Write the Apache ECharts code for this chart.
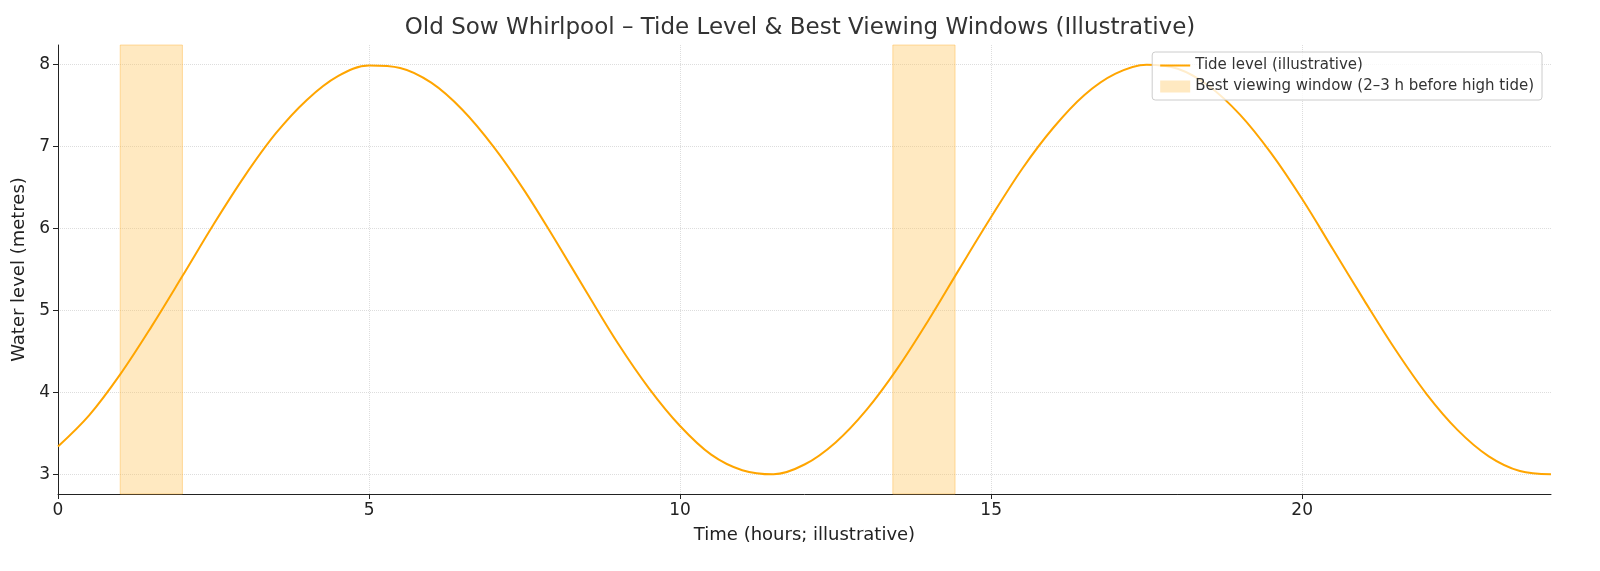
<!DOCTYPE html>
<html>
<head>
<meta charset="utf-8">
<script src="https://cdn.jsdelivr.net/npm/echarts@6/dist/echarts.min.js"></script>
<style>html,body{margin:0;padding:0;background:#fff}#chart{width:1600px;height:571px}</style>
</head>
<body>
<div id="chart"></div>
<script>
// hours and tide level
var hours = [0,0.5,1,1.5,2,2.5,3,3.5,4,4.5,5,5.5,6,6.5,7,7.5,8,8.5,9,9.5,10,10.5,11,11.5,12,12.5,13,13.5,14,14.5,15,15.5,16,16.5,17,17.5,18,18.5,19,19.5,20,20.5,21,21.5,22,22.5,23,23.5,24];
var tide = [3.34,3.72,4.22,4.80,5.42,6.05,6.64,7.16,7.57,7.86,7.99,7.96,7.78,7.45,7.00,6.46,5.85,5.22,4.60,4.05,3.59,3.24,3.05,3.00,3.12,3.39,3.79,4.30,4.89,5.52,6.14,6.73,7.23,7.63,7.89,8.00,7.95,7.74,7.39,6.92,6.36,5.74,5.12,4.52,3.98,3.54,3.22,3.04,3.00];
var windows = [[1.0, 2.0], [13.42, 14.42]];
var xTicks = [0, 5, 10, 15, 20];
var yTicks = [3, 4, 5, 6, 7, 8];

var font = 'DejaVu Sans';
var chart = echarts.init(document.getElementById('chart'));
chart.setOption({
    animation: false,
    textStyle: { fontFamily: font },
    title: {
        text: 'Old Sow Whirlpool – Tide Level & Best Viewing Windows (Illustrative)',
        left: 'center', top: 12,
        textStyle: { fontSize: 23, fontWeight: 'normal', color: '#333', fontFamily: font }
    },
    legend: {
        right: 58, top: 52, orient: 'vertical', itemGap: 6,
        backgroundColor: 'rgba(255,255,255,0.8)', borderColor: '#ccc', borderWidth: 1, borderRadius: 3,
        padding: [6, 8], textStyle: { fontSize: 15, color: '#333' },
        data: [
            { name: 'Tide level (illustrative)', icon: 'path://M0,5 L30,5 L30,7 L0,7 Z' },
            { name: 'Best viewing window (2–3 h before high tide)', icon: 'rect' }
        ],
        itemWidth: 30, itemHeight: 12
    },
    grid: { left: 58, right: 49, top: 45, bottom: 77 },
    xAxis: {
        type: 'value', min: 0, max: 24,
        name: 'Time (hours; illustrative)', nameLocation: 'middle', nameGap: 32,
        nameTextStyle: { fontSize: 18, color: '#222' },
        axisLine: { lineStyle: { color: '#222' } },
        axisTick: { customValues: xTicks, lineStyle: { color: '#222' } },
        axisLabel: { customValues: xTicks, fontSize: 17, color: '#222' },
        splitLine: { show: true, lineStyle: { type: 'dotted', color: '#ddd' } }
    },
    yAxis: {
        type: 'value', min: 2.76, max: 8.24,
        name: 'Water level (metres)', nameLocation: 'middle', nameGap: 30,
        nameTextStyle: { fontSize: 18, color: '#222' },
        axisLine: { show: true, lineStyle: { color: '#222' } },
        axisTick: { show: true, customValues: yTicks, lineStyle: { color: '#222' } },
        axisLabel: { customValues: yTicks, fontSize: 17, color: '#222' },
        splitLine: { show: true, lineStyle: { type: 'dotted', color: '#ddd' } }
    },
    series: [{
        name: 'Best viewing window (2–3 h before high tide)',
        type: 'line', data: [],
        itemStyle: { color: 'rgba(255,200,100,0.4)', borderColor: 'rgba(255,165,0,0.4)' },
        markArea: {
            silent: true,
            itemStyle: { color: 'rgba(255,200,100,0.4)', borderColor: 'rgba(255,180,60,0.45)', borderWidth: 1 },
            data: windows.map(function (w) { return [{ xAxis: w[0] }, { xAxis: w[1] }]; })
        }
    }, {
        name: 'Tide level (illustrative)',
        type: 'line', smooth: 0.35, showSymbol: false,
        lineStyle: { color: '#ffa500', width: 2 },
        itemStyle: { color: '#ffa500' },
        data: hours.map(function (h, i) { return [h, tide[i]]; })
    }]
});
</script>
</body>
</html>
